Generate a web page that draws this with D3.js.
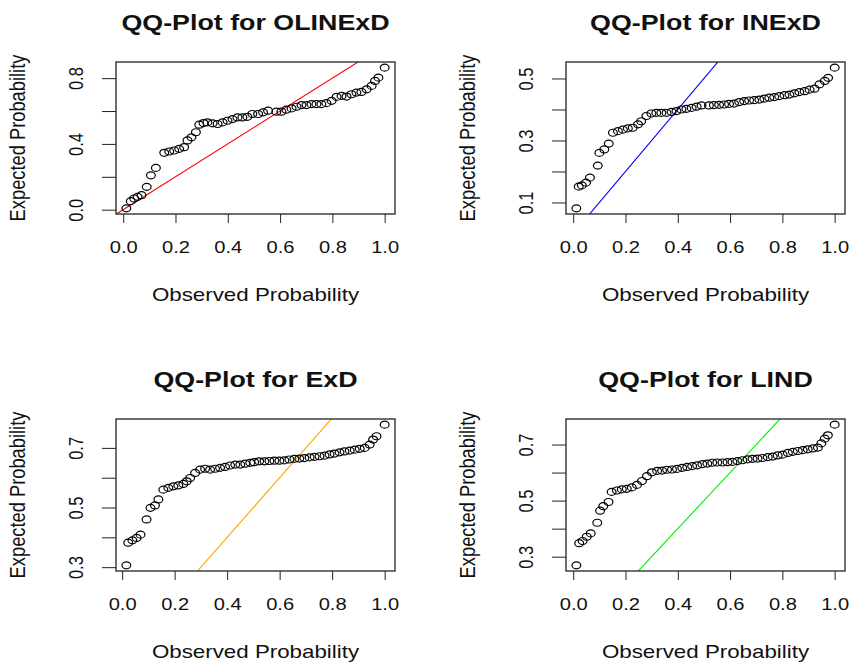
<!DOCTYPE html>
<html>
<head>
<meta charset="utf-8">
<script src="https://cdn.jsdelivr.net/npm/d3@7"></script>
<style>
  body { margin: 0; background: #fff; }
  text { font-family: Arial, "Liberation Sans", sans-serif; fill: #111; }
</style>
</head>
<body>
<script>
// observed / expected probabilities
let olinexdObs = [0.012, 0.029, 0.042, 0.055, 0.070, 0.090, 0.106, 0.125, 0.157, 0.176, 0.195, 0.214, 0.233, 0.246,
  0.261, 0.278, 0.291, 0.307, 0.322, 0.342, 0.361, 0.380, 0.399, 0.418, 0.437, 0.456, 0.475, 0.494, 0.516, 0.535,
  0.554, 0.586, 0.605, 0.624, 0.644, 0.663, 0.682, 0.701, 0.720, 0.739, 0.758, 0.777, 0.797, 0.816, 0.835, 0.854,
  0.873, 0.892, 0.911, 0.931, 0.950, 0.963, 0.976, 1.000];
let olinexdExp = [0.008, 0.052, 0.068, 0.078, 0.088, 0.139, 0.209, 0.254, 0.346, 0.354, 0.360, 0.370, 0.380, 0.421,
  0.440, 0.471, 0.517, 0.527, 0.531, 0.525, 0.521, 0.531, 0.541, 0.551, 0.561, 0.561, 0.565, 0.582, 0.582, 0.592,
  0.602, 0.596, 0.596, 0.608, 0.616, 0.626, 0.636, 0.636, 0.642, 0.642, 0.642, 0.648, 0.662, 0.686, 0.692, 0.688,
  0.702, 0.712, 0.716, 0.732, 0.753, 0.783, 0.803, 0.864];

let inexdObs = [0.012, 0.021, 0.033, 0.049, 0.064, 0.094, 0.100, 0.119, 0.136, 0.152, 0.171, 0.190, 0.209, 0.228,
  0.248, 0.260, 0.280, 0.299, 0.318, 0.337, 0.357, 0.376, 0.395, 0.414, 0.433, 0.453, 0.472, 0.491, 0.519, 0.538,
  0.558, 0.577, 0.596, 0.615, 0.635, 0.654, 0.673, 0.692, 0.712, 0.731, 0.750, 0.769, 0.788, 0.808, 0.827, 0.846,
  0.865, 0.885, 0.904, 0.923, 0.942, 0.962, 0.975, 1.000];
let inexdExp = [0.081, 0.151, 0.155, 0.164, 0.180, 0.219, 0.260, 0.271, 0.290, 0.325, 0.330, 0.335, 0.339, 0.341,
  0.352, 0.362, 0.379, 0.387, 0.389, 0.389, 0.389, 0.392, 0.395, 0.400, 0.402, 0.405, 0.409, 0.413, 0.413, 0.414,
  0.415, 0.416, 0.418, 0.419, 0.424, 0.427, 0.429, 0.430, 0.432, 0.435, 0.438, 0.440, 0.443, 0.446, 0.448, 0.452,
  0.456, 0.459, 0.464, 0.467, 0.481, 0.492, 0.502, 0.535];

let exdObs = [0.016, 0.023, 0.039, 0.055, 0.070, 0.093, 0.108, 0.125, 0.138, 0.157, 0.176, 0.195, 0.214, 0.233,
  0.246, 0.259, 0.278, 0.297, 0.316, 0.335, 0.354, 0.373, 0.392, 0.411, 0.431, 0.450, 0.469, 0.488, 0.503, 0.522,
  0.542, 0.561, 0.580, 0.599, 0.618, 0.637, 0.656, 0.675, 0.694, 0.714, 0.733, 0.752, 0.771, 0.790, 0.809, 0.828,
  0.847, 0.867, 0.886, 0.905, 0.924, 0.943, 0.956, 0.969, 1.000];
let exdExp = [0.306, 0.382, 0.390, 0.398, 0.409, 0.460, 0.499, 0.507, 0.527, 0.560, 0.566, 0.571, 0.574, 0.579,
  0.588, 0.599, 0.616, 0.627, 0.630, 0.627, 0.630, 0.633, 0.636, 0.641, 0.644, 0.644, 0.647, 0.650, 0.652, 0.655,
  0.655, 0.656, 0.657, 0.657, 0.658, 0.661, 0.663, 0.664, 0.666, 0.668, 0.670, 0.672, 0.674, 0.678, 0.681, 0.685,
  0.688, 0.691, 0.694, 0.697, 0.700, 0.711, 0.728, 0.739, 0.778];

let lindObs = [0.012, 0.023, 0.036, 0.052, 0.067, 0.092, 0.103, 0.115, 0.135, 0.147, 0.167, 0.186, 0.205, 0.224,
  0.244, 0.263, 0.282, 0.301, 0.321, 0.340, 0.359, 0.378, 0.397, 0.417, 0.436, 0.455, 0.474, 0.494, 0.513, 0.532,
  0.551, 0.571, 0.590, 0.609, 0.628, 0.647, 0.667, 0.686, 0.705, 0.724, 0.744, 0.763, 0.782, 0.801, 0.821, 0.840,
  0.859, 0.878, 0.897, 0.917, 0.936, 0.949, 0.962, 0.974, 1.000];
let lindExp = [0.269, 0.348, 0.356, 0.371, 0.383, 0.421, 0.464, 0.480, 0.495, 0.531, 0.536, 0.540, 0.542, 0.547,
  0.556, 0.570, 0.587, 0.601, 0.606, 0.607, 0.610, 0.611, 0.613, 0.617, 0.620, 0.623, 0.626, 0.630, 0.632, 0.635,
  0.636, 0.636, 0.637, 0.638, 0.641, 0.644, 0.647, 0.649, 0.650, 0.652, 0.655, 0.657, 0.661, 0.664, 0.670, 0.674,
  0.677, 0.680, 0.683, 0.686, 0.689, 0.704, 0.721, 0.733, 0.771];

let titles = ["QQ-Plot for OLINExD", "QQ-Plot for INExD", "QQ-Plot for ExD", "QQ-Plot for LIND"];
let lineColors = ["#ff0000", "#0000ff", "#ffa500", "#00ee00"];
let xTicks = [0, 0.2, 0.4, 0.6, 0.8, 1.0];
let yTicks = [[0, 0.2, 0.4, 0.6, 0.8], [0.1, 0.2, 0.3, 0.4, 0.5], [0.3, 0.4, 0.5, 0.6, 0.7], [0.3, 0.4, 0.5, 0.6, 0.7]];
let yLabels = [[0, 0.4, 0.8], [0.1, 0.3, 0.5], [0.3, 0.5, 0.7], [0.3, 0.5, 0.7]];

let W = 850, H = 663;
let pw = 279, ph = 152;   // plot box
let sx = 1.22;            // the original is stretched sideways
let panels = [
  { left: 116, top: 62, obs: olinexdObs, exp: olinexdExp },
  { left: 566, top: 62, obs: inexdObs, exp: inexdExp },
  { left: 116, top: 419, obs: exdObs, exp: exdExp },
  { left: 566, top: 419, obs: lindObs, exp: lindExp }
];

let svg = d3.select("body").append("svg").attr("width", W).attr("height", H);
let fmt = d3.format(".1f");

// R style axis range: data range plus 4% on each side
function padded(vals) {
  let e = d3.extent(vals);
  let d = (e[1] - e[0]) * 0.04;
  return [e[0] - d, e[1] + d];
}

panels.forEach(function (p, i) {
  let x = d3.scaleLinear().domain(padded(p.obs)).range([0, pw]);
  let y = d3.scaleLinear().domain(padded(p.exp)).range([ph, 0]);
  let g = svg.append("g").attr("transform", "translate(" + p.left + "," + p.top + ")");

  g.append("clipPath").attr("id", "clip" + i)
    .append("rect").attr("width", pw).attr("height", ph);

  // x axis
  let ax = g.append("g").attr("transform", "translate(0," + ph + ")")
    .call(d3.axisBottom(x).tickValues(xTicks).tickSize(9).tickFormat(fmt));
  ax.select(".domain").remove();
  ax.selectAll("line").attr("stroke", "#222");
  ax.selectAll("text")
    .attr("y", 0).attr("dy", 0)
    .attr("font-size", 16.5)
    .attr("transform", "translate(0,39) scale(" + sx + ",1)");

  // y axis, labels parallel to the axis, some dropped like R does
  let ay = g.append("g")
    .call(d3.axisLeft(y).tickValues(yTicks[i]).tickSize(14)
      .tickFormat(function (d) { return yLabels[i].some(function (v) { return Math.abs(v - d) < 1e-9; }) ? fmt(d) : ""; }));
  ay.select(".domain").remove();
  ay.selectAll("line").attr("stroke", "#222");
  ay.selectAll("text")
    .attr("x", 0).attr("dy", 0)
    .attr("text-anchor", "middle")
    .attr("font-size", 16.5)
    .attr("transform", "translate(-33,0) scale(" + sx + ",1) rotate(-90)");

  // reference line y = x
  let lo = Math.min(x.domain()[0], y.domain()[0]) - 1;
  let hi = Math.max(x.domain()[1], y.domain()[1]) + 1;
  g.append("line")
    .attr("clip-path", "url(#clip" + i + ")")
    .attr("x1", x(lo)).attr("y1", y(lo))
    .attr("x2", x(hi)).attr("y2", y(hi))
    .attr("stroke", lineColors[i]).attr("stroke-width", 1.1);

  // points
  g.selectAll("ellipse")
    .data(p.obs)
    .enter()
    .append("ellipse")
    .attr("cx", function (d) { return x(d); })
    .attr("cy", function (d, j) { return y(p.exp[j]); })
    .attr("rx", 4.4)
    .attr("ry", 3.5)
    .attr("fill", "none")
    .attr("stroke", "#000")
    .attr("stroke-width", 1.2);

  // box
  g.append("rect").attr("width", pw).attr("height", ph)
    .attr("fill", "none").attr("stroke", "#222").attr("stroke-width", 1.3);

  // titles
  g.append("text")
    .attr("transform", "translate(" + pw / 2 + ",-32) scale(" + sx + ",1)")
    .attr("text-anchor", "middle")
    .attr("font-size", 22)
    .attr("font-weight", "bold")
    .text(titles[i]);

  g.append("text")
    .attr("transform", "translate(" + pw / 2 + "," + (ph + 87) + ") scale(" + sx + ",1)")
    .attr("text-anchor", "middle")
    .attr("font-size", 18.3)
    .text("Observed Probability");

  g.append("text")
    .attr("transform", "translate(-91," + ph / 2 + ") scale(" + sx + ",1) rotate(-90)")
    .attr("text-anchor", "middle")
    .attr("font-size", 18.3)
    .text("Expected Probability");
});
</script>
</body>
</html>
